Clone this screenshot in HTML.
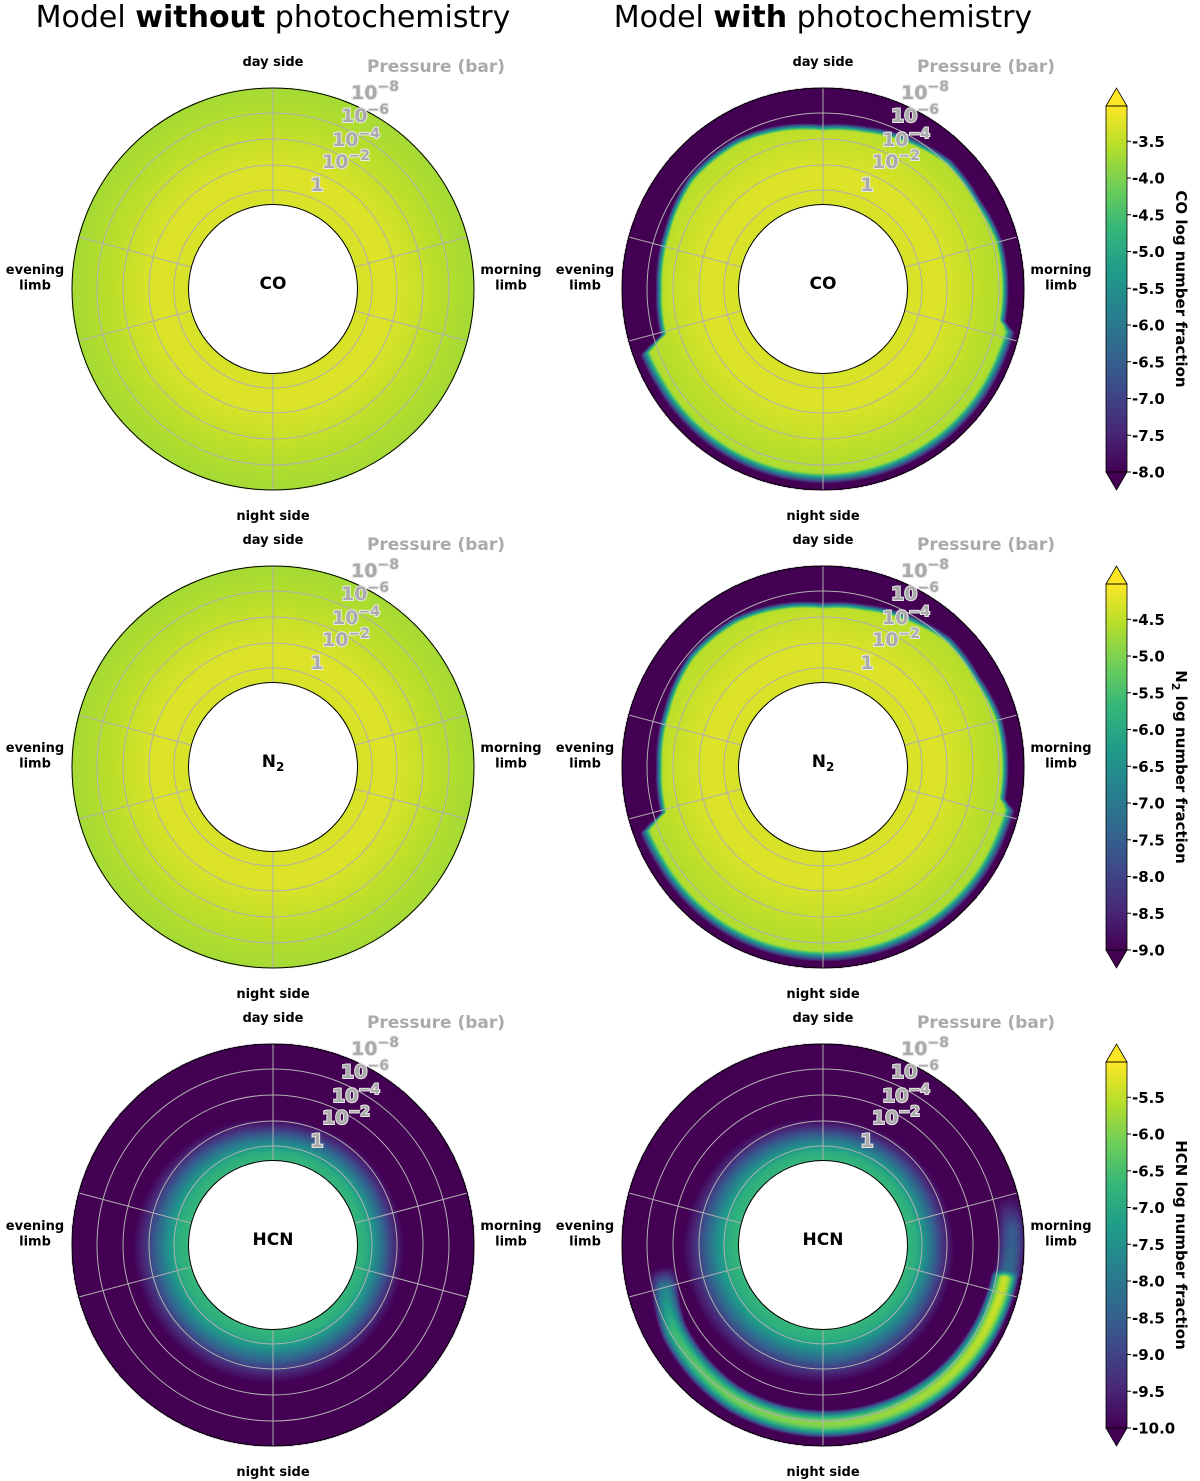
<!DOCTYPE html>
<html><head><meta charset="utf-8">
<style>
body{margin:0;background:#fff;width:1200px;height:1481px;position:relative;overflow:hidden;font-family:"DejaVu Sans","Liberation Sans",sans-serif}
canvas{position:absolute}
svg{position:absolute;left:0;top:0;font-family:"DejaVu Sans","Liberation Sans",sans-serif}
</style></head><body>
<div id="wrap"></div>
<svg id="ov" width="1200" height="1481"></svg>
<script>
// ---------- data ----------
const profT = [0, 0.25, 0.5, 0.75, 1];
const coProfile = [-3.32, -3.25, -3.4, -3.58, -3.7];
const n2Profile = [-4.32, -4.25, -4.4, -4.58, -4.7];
const hcnProfT = [0, 0.08, 0.16, 0.24, 0.32, 0.4, 1];
const hcnProfile = [-6.7, -6.9, -7.6, -8.5, -9.4, -10, -10];
const hcnWidthAng = [0, 90, 180, 270, 360];
const hcnWidthScale = [0.9, 1.0, 1.15, 1.2, 0.9];
const boundAng = [0,15,30,45,60,75,90,100,103,110,180,240,250,254,270,290,310,330,345,360];
const coBound = [0.66,0.69,0.75,0.81,0.80,0.84,0.84,0.84,0.92,0.91,0.90,0.89,0.90,0.70,0.68,0.70,0.75,0.74,0.70,0.66];
const n2Bound = [0.66,0.69,0.75,0.81,0.80,0.84,0.84,0.84,0.92,0.91,0.90,0.89,0.90,0.70,0.68,0.70,0.75,0.74,0.70,0.66];
const bandAng = [75, 85, 98, 100, 110, 130, 160, 180, 210, 240, 255, 262];
const bandVal = [-10, -8.6, -8.3, -5.4, -5.4, -5.6, -5.8, -5.9, -6.1, -6.6, -7.8, -10];
const bandPos = [0.9, 0.9, 0.88, 0.86, 0.85, 0.84, 0.82, 0.81, 0.8, 0.75, 0.68, 0.67];
const coTicks = [-3.5,-4.0,-4.5,-5.0,-5.5,-6.0,-6.5,-7.0,-7.5,-8.0];
const n2Ticks = [-4.5,-5.0,-5.5,-6.0,-6.5,-7.0,-7.5,-8.0,-8.5,-9.0];
const hcnTicks = [-5.5,-6.0,-6.5,-7.0,-7.5,-8.0,-8.5,-9.0,-9.5,-10.0];
const pressLabels = ["1","10|-2","10|-4","10|-6","10|-8"];

// ---------- helpers ----------
const VIR=[[68,1,84],[72,40,120],[62,73,137],[49,104,142],[38,130,142],[31,158,137],[53,183,121],[110,206,88],[181,222,43],[253,231,37]];
function vir(f){f=Math.max(0,Math.min(1,f));const x=f*9,i=Math.min(8,Math.floor(x)),u=x-i;const a=VIR[i],b=VIR[i+1];return [a[0]+(b[0]-a[0])*u,a[1]+(b[1]-a[1])*u,a[2]+(b[2]-a[2])*u];}
function interp(xs,ys,x){if(x<=xs[0])return ys[0];for(let i=1;i<xs.length;i++){if(x<=xs[i]){const u=(x-xs[i-1])/(xs[i]-xs[i-1]);return ys[i-1]+(ys[i]-ys[i-1])*u;}}return ys[ys.length-1];}
const R=201, RI=84.5, RINGS=[99,124,150,176];
const cols=[273,823], rows=[289,767,1245];
const ranges=[[-8,-3.02],[-9,-4.02],[-10,-5.02]];

function fieldCO(t,a,photo,prof,bnd,dark){
  let v=interp(profT,prof,t);
  if(photo){const b=interp(boundAng,bnd,a);const w=(a>102&&a<252)?0.09:0.06;const s=Math.max(0,Math.min(1,(t-b)/w+0.5));v=v+(dark-v)*s;}
  return v;}
function fieldHCN(t,a,photo){
  const sc=interp(hcnWidthAng,hcnWidthScale,a);
  let v=interp(hcnProfT,hcnProfile,t/sc);
  if(photo&&a>=bandAng[0]&&a<=bandAng[bandAng.length-1]){
    const bv=interp(bandAng,bandVal,a),bp=interp(bandAng,bandPos,a);
    const d=Math.abs(t-bp)/0.12;const bb=bv+(-10-bv)*Math.min(1,d*d);v=Math.max(v,bb);}
  return v;}

function drawPanel(row,col){
  const cx=cols[col],cy=rows[row];
  const c=document.createElement('canvas');
  
  
  const S=2*R+2;c.width=S;c.height=S;c.style.left=(cx-R-1)+'px';c.style.top=(cy-R-1)+'px';
  const ctx=c.getContext('2d'),img=ctx.createImageData(S,S);
  const [vmin,vmax]=ranges[row];
  for(let y=0;y<S;y++)for(let x=0;x<S;x++){
    const dx=x-R-1+0.5,dy=y-R-1+0.5,r=Math.hypot(dx,dy);
    if(r<RI||r>R+0.5)continue;
    let a=Math.atan2(dx,-dy)*180/Math.PI;if(a<0)a+=360;
    const t=(r-RI)/(R-RI);
    let v;
    if(row===0)v=fieldCO(t,a,col===1,coProfile,coBound,-8);
    else if(row===1)v=fieldCO(t,a,col===1,n2Profile,n2Bound,-9);
    else v=fieldHCN(t,a,col===1);
    const rgb=vir((v-vmin)/(vmax-vmin));const k=(y*S+x)*4;
    img.data[k]=rgb[0];img.data[k+1]=rgb[1];img.data[k+2]=rgb[2];img.data[k+3]=255;}
  ctx.putImageData(img,0,0);
  document.getElementById('wrap').appendChild(c);
}
for(let r=0;r<3;r++)for(let c=0;c<2;c++)drawPanel(r,c);

// ---------- overlay ----------
const NS='http://www.w3.org/2000/svg',ov=document.getElementById('ov');
function el(tag,attrs,parent,txt){const e=document.createElementNS(NS,tag);for(const k in attrs)e.setAttribute(k,attrs[k]);if(txt!==undefined)e.textContent=txt;(parent||ov).appendChild(e);return e;}
const defs=el('defs',{});
const g=el('linearGradient',{id:'vg',x1:0,y1:1,x2:0,y2:0},defs);
VIR.forEach((c,i)=>el('stop',{offset:i/9,'stop-color':`rgb(${c})`},g));

const t1=el('text',{x:273,y:27,'text-anchor':'middle','font-size':30});


t1.innerHTML='Model <tspan font-weight="bold">without</tspan> photochemistry';
const t2=el('text',{x:823,y:27,'text-anchor':'middle','font-size':30});


t2.innerHTML='Model <tspan font-weight="bold">with</tspan> photochemistry';

const species=['CO','N2','HCN'];
for(let row=0;row<3;row++)for(let col=0;col<2;col++){
  const cx=cols[col],cy=rows[row];
  const grp=el('g',{});
  
  
  RINGS.forEach(rr=>el('circle',{cx,cy,r:rr,fill:'none',stroke:'#b0b0b0','stroke-width':1},grp));
  [0,75,105,180,255,285].forEach(a=>{const s=Math.sin(a*Math.PI/180),c=-Math.cos(a*Math.PI/180);
    el('line',{x1:cx+RI*s,y1:cy+RI*c,x2:cx+R*s,y2:cy+R*c,stroke:'#b0b0b0','stroke-width':1},grp);});
  el('circle',{cx,cy,r:R,fill:'none',stroke:'#000','stroke-width':1},grp);
  el('circle',{cx,cy,r:RI,fill:'#fff',stroke:'#000','stroke-width':1},grp);
  const lab=el('text',{x:cx,y:cy,'text-anchor':'middle','font-size':17,'font-weight':'bold'},grp);
  
  
  if(row===1)lab.innerHTML='N<tspan font-size="12" dy="4">2</tspan>';else lab.textContent=species[row];
  const fs=13;
  const d=el('text',{x:cx,y:cy-223,'text-anchor':'middle','font-size':fs,'font-weight':'bold'},grp,'day side');
  
  
  const n=el('text',{x:cx,y:cy+231,'text-anchor':'middle','font-size':fs,'font-weight':'bold'},grp,'night side');
  
  
  const ev=el('text',{x:cx-238,y:cy-15,'text-anchor':'middle','font-size':fs,'font-weight':'bold'},grp);
  
  
  ev.innerHTML=`<tspan x="${cx-238}">evening</tspan><tspan x="${cx-238}" dy="15.5">limb</tspan>`;
  const mo=el('text',{x:cx+238,y:cy-15,'text-anchor':'middle','font-size':fs,'font-weight':'bold'},grp);
  
  
  mo.innerHTML=`<tspan x="${cx+238}">morning</tspan><tspan x="${cx+238}" dy="15.5">limb</tspan>`;
  const pt=el('text',{x:cx+163,y:cy-217,'text-anchor':'middle','font-size':17,'font-weight':'bold',fill:'#aaaaaa'},grp,'Pressure (bar)');
  
  
  const offs=[[44,-98],[73,-121],[83,-143],[92,-167],[102,-190]];
  pressLabels.forEach((s,i)=>{
    const [b,e]=s.split('|');
    const tx=el('text',{x:cx+offs[i][0],y:cy+offs[i][1],'text-anchor':'middle','font-size':19,'font-weight':'bold',fill:'#aaaaaa',stroke:'#e8e8e8','stroke-width':2,'paint-order':'stroke'},grp);
    
    
    if(e)tx.innerHTML=`${b}<tspan font-size="14" dy="-8">${e.replace('-','\u2212')}</tspan>`;else tx.textContent=b;
  });
}

const tickSets=[coTicks,n2Ticks,hcnTicks];
const cbNames=['CO','N2','HCN'];
for(let row=0;row<3;row++){
  const off=row*478,[vmin,vmax]=ranges[row];
  const top=106+off,bot=472+off,x0=1106,x1=1127;
  const yOf=v=>bot-(v-vmin)/(vmax-vmin)*(bot-top);
  const cg=el('g',{});
  
  
  el('rect',{x:x0,y:top,width:x1-x0,height:bot-top,fill:'url(#vg)'},cg);
  el('polygon',{points:`${x0},${top} ${(x0+x1)/2},${top-18} ${x1},${top}`,fill:'#fde725',stroke:'#000','stroke-width':0.8},cg);
  el('polygon',{points:`${x0},${bot} ${(x0+x1)/2},${bot+18} ${x1},${bot}`,fill:'#440154',stroke:'#000','stroke-width':0.8},cg);
  el('rect',{x:x0,y:top,width:x1-x0,height:bot-top,fill:'none',stroke:'#000','stroke-width':0.8},cg);
  tickSets[row].forEach(v=>{const y=yOf(v);
    el('line',{x1:x1,x2:x1+4,y1:y,y2:y,stroke:'#000'},cg);
    const tt=el('text',{x:x1+5,y:y+5.5,'font-size':15,'font-weight':'bold'},cg,v.toFixed(1));
    
    });
  const cy=(top+bot)/2;
  const lt=el('text',{x:1176,y:cy,'text-anchor':'middle','font-size':15,'font-weight':'bold',transform:`rotate(90 1176 ${cy})`},cg);
  
  
  if(row===1)lt.innerHTML='N<tspan font-size="11" dy="4">2</tspan><tspan dy="-4"> log number fraction</tspan>';
  else lt.textContent=cbNames[row]+' log number fraction';
}
</script>
</body></html>
